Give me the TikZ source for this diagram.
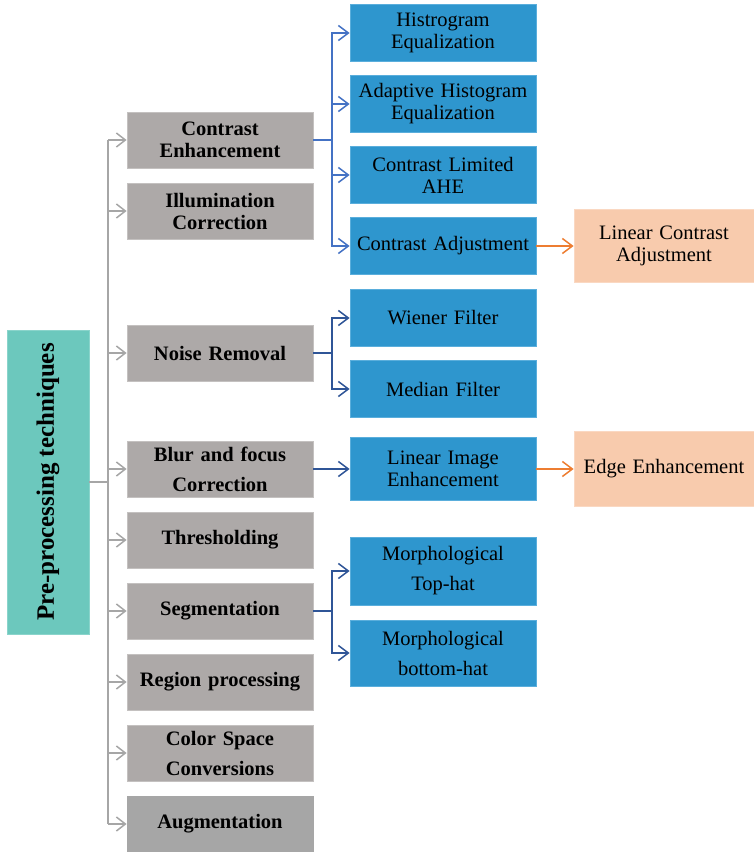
\documentclass[tikz,border=0pt]{standalone}
\usepackage{fontspec}
\setmainfont{Liberation Serif}
\usetikzlibrary{arrows.meta}
\definecolor{rootteal}{HTML}{6CC8BD}
\definecolor{rootedge}{HTML}{8AD4CB}
\definecolor{boxgray}{HTML}{ADA9A8}
\definecolor{boxgrayedge}{HTML}{C4C1C0}
\definecolor{auggray}{HTML}{A6A6A6}
\definecolor{boxblue}{HTML}{2E96CE}
\definecolor{boxblueedge}{HTML}{5AAEDC}
\definecolor{boxorange}{HTML}{F8CBAD}
\definecolor{boxorangeedge}{HTML}{FAD8C2}
\definecolor{lgray}{HTML}{A6A6A6}
\definecolor{lblue}{HTML}{4472C4}
\definecolor{dblue}{HTML}{2F5597}
\definecolor{lorange}{HTML}{ED7D31}
\begin{document}
\begin{tikzpicture}[x=1pt,y=-1pt,
  txt/.style={font=\fontsize{20.5}{22}\selectfont},
  wide/.style={font=\fontsize{20.5}{30}\selectfont},
  btxt/.style={font=\fontsize{20.5}{22}\selectfont\bfseries},
  bwide/.style={font=\fontsize{20.5}{30}\selectfont\bfseries},
  graybox/.style={fill=boxgray, draw=boxgrayedge, line width=0.8pt, minimum width=186pt, minimum height=56pt, inner sep=0pt, align=center, text width=184pt},
  bluebox/.style={fill=boxblue, draw=boxblueedge, line width=0.8pt, minimum width=186pt, minimum height=57pt, inner sep=0pt, align=center, text width=184pt},
  orangebox/.style={fill=boxorange, draw=boxorangeedge, line width=0.8pt, minimum width=180pt, inner sep=0pt, align=center, text width=178pt},
  grayarrow/.style={draw=lgray, line width=1.8pt, -{Straight Barb[length=9pt,width=14pt,line width=1.5pt]}},
  bluearrow/.style={draw=lblue, line width=1.8pt, -{Straight Barb[length=10pt,width=15pt,line width=1.5pt]}},
  dbluearrow/.style={draw=dblue, line width=1.8pt, -{Straight Barb[length=10pt,width=15pt,line width=1.5pt]}},
  orangearrow/.style={draw=lorange, line width=1.8pt, -{Straight Barb[length=10pt,width=15pt,line width=1.5pt]}},
]
\useasboundingbox (0,0) rectangle (754,852);

% root
\node[fill=rootteal, draw=rootedge, line width=0.8pt, minimum width=82pt, minimum height=304pt, inner sep=0pt] (root) at (48,482) {};
\node[rotate=90, font=\fontsize{25}{28}\selectfont\bfseries] (roottext) at (root.center) {Pre-processing techniques};

% gray level
\node[graybox, btxt] (ce) at (220,140) {Contrast\\Enhancement};
\node[graybox, btxt] (ic) at (220,211) {Illumination\\Correction};
\node[graybox, btxt] (nr) at (220,353) {Noise Removal};
\node[graybox, bwide] (bf) at (220,469) {Blur and focus\\Correction};
\node[graybox, btxt] (th) at (220,540) {Thresholding};
\node[graybox, btxt] (sg) at (220,611) {Segmentation};
\node[graybox, btxt] (rp) at (220,682) {Region processing};
\node[graybox, bwide] (cs) at (220,753) {Color Space\\Conversions};
\node[graybox, btxt, fill=auggray, draw=auggray] (au) at (220,824) {Augmentation};

% blue level
\node[bluebox, txt] (he) at (443,33) {Histrogram\\Equalization};
\node[bluebox, txt] (ahe) at (443,104) {Adaptive Histogram\\Equalization};
\node[bluebox, txt] (clahe) at (443,175) {Contrast Limited\\AHE};
\node[bluebox, txt] (ca) at (443,246) {Contrast Adjustment};
\node[bluebox, txt] (wf) at (443,318) {Wiener Filter};
\node[bluebox, txt] (mf) at (443,389) {Median Filter};
\node[bluebox, txt, minimum height=63pt] (lie) at (443,469) {Linear Image\\Enhancement};
\node[bluebox, wide, minimum height=68pt] (mth) at (443,571) {Morphological\\Top-hat};
\node[bluebox, wide, minimum height=66pt] (mbh) at (443,653) {Morphological\\bottom-hat};

% orange level
\node[orangebox, txt, minimum height=73pt] (lca) at (664,246) {Linear Contrast\\Adjustment};
\node[orangebox, txt, minimum height=75pt] (ee) at (664,469) {Edge Enhancement};

% spine
\coordinate (sp) at (108,0);
\coordinate (bx) at (332,0);
\draw[draw=lgray, line width=1.8pt] (root.east) -- (root.east -| sp);
\draw[draw=lgray, line width=1.8pt] (ce.west -| sp) -- (au.west -| sp);
\foreach \n in {ce,ic,nr,bf,th,sg,rp,cs,au}
  \draw[grayarrow] (\n.west -| sp) -- (\n.west);

% contrast enhancement branches
\foreach \n in {he,ahe,clahe,ca}
  \draw[bluearrow] (ce.east) -- (ce.east -| bx) |- (\n.west);
% noise removal branches
\foreach \n in {wf,mf}
  \draw[dbluearrow] (nr.east) -- (nr.east -| bx) |- (\n.west);
% blur
\draw[dbluearrow] (bf.east) -- (lie.west);
% segmentation
\foreach \n in {mth,mbh}
  \draw[dbluearrow] (sg.east) -- (sg.east -| bx) |- (\n.west);

% orange
\draw[orangearrow] (ca.east) -- (lca.west);
\draw[orangearrow] (lie.east) -- (ee.west);
\end{tikzpicture}
\end{document}
